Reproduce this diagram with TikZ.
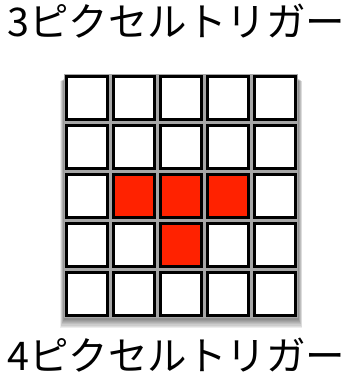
\documentclass[tikz,border=0pt]{standalone}
\usepackage{fontspec}
\newfontfamily\jpfont{Noto Sans CJK JP}
\usepackage{tikz}

\definecolor{trigred}{RGB}{255,34,0}

\begin{document}
\begin{tikzpicture}[x=1pt,y=-1pt,
	cell/.style={draw=black,line width=3pt,fill=white,minimum width=41pt,minimum height=43pt,inner sep=0pt},
	hit/.style={cell,fill=trigred},
	caption/.style={font=\jpfont\fontsize{39.5}{44}\selectfont,inner sep=0pt}]
	\useasboundingbox (0,0) rectangle (356,390);
	% shadow under the grid
	\foreach \s in {1,...,10}
		\fill[black,opacity=0.07] (65-\s*0.5,78+\s*0.3) rectangle (297+\s*0.5,316+\s*1.2);
	\fill[gray!70] (64,74) rectangle (298,318);
	% cells
	\foreach \r in {0,...,4}
		\foreach \c in {0,...,4}
			\node[cell] (c-\r-\c) at (87+\c*47,98+\r*49) {};
	\node[hit] (c-2-1) at (134,196) {};
	\node[hit] (c-2-2) at (181,196) {};
	\node[hit] (c-2-3) at (228,196) {};
	\node[hit] (c-3-2) at (181,245) {};
	% labels
	\node[caption,anchor=base west] (top) at (7,37) {3ピクセルトリガー};
	\node[caption,anchor=base west] (bottom) at (7,370) {4ピクセルトリガー};
\end{tikzpicture}
\end{document}
